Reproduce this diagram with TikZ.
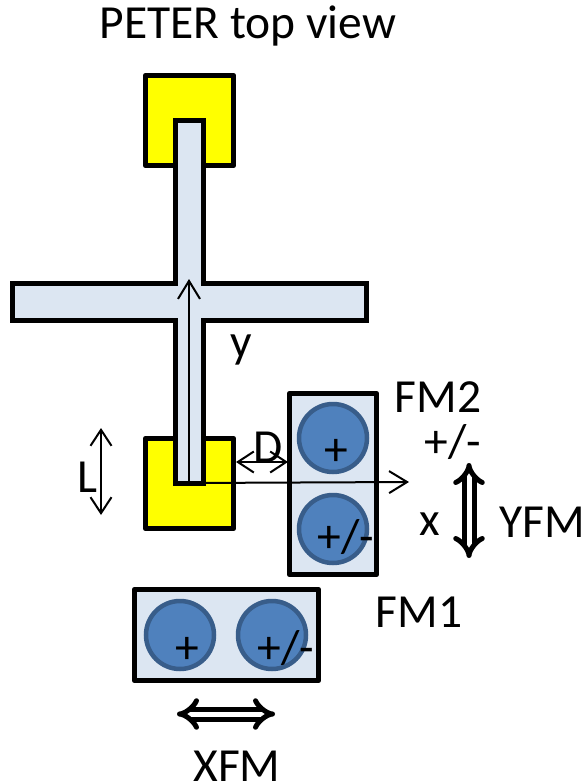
\documentclass[tikz,border=0pt]{standalone}
\usepackage{fontspec}
\usepackage{xcolor}
\usetikzlibrary{arrows.meta}
\setmainfont{Carlito}
\definecolor{padyellow}{HTML}{FFFF00}
\definecolor{palefill}{HTML}{DCE6F2}
\definecolor{discfill}{HTML}{4F81BD}
\definecolor{discedge}{HTML}{385D8A}
\tikzset{
    anchor-box/.style = {draw=black, fill=padyellow, line width=5.5pt, rectangle, line join=round, inner sep=0pt, minimum width=88pt, minimum height=90pt},
    magnet-box/.style = {draw=black, fill=palefill, line width=5.5pt, rectangle, line join=round, inner sep=0pt},
    magnet-disc/.style = {draw=discedge, fill=discfill, line width=4.5pt, circle, inner sep=0pt, minimum size=68pt},
    thin-arrow/.style = {line width=2pt, {Straight Barb[length=16pt,width=21pt,line width=2pt]}-{Straight Barb[length=16pt,width=21pt,line width=2pt]}},
    axis-arrow/.style = {line width=2pt, -{Straight Barb[length=18pt,width=22pt,line width=2pt]}},
    travel-arrow/.style = {draw=black, double=white, double distance=5pt, line width=5pt, {Implies}-{Implies}},
    label-text/.style = {inner sep=0pt, anchor=base, font=\fontsize{47.5pt}{47.5pt}\selectfont},
}

\begin{document}
\begin{tikzpicture}[x=1pt, y=-1pt]
\useasboundingbox (0,0) rectangle (586,784);
% yellow pads under the cross
\node [anchor-box] (top-pad) at (189.5,120.5) {};
\node [anchor-box] (bottom-pad) at (189.5,483.5) {};
\draw [fill=palefill, line width=5.5pt, line join=miter] (175.5,120.5) -- (203.5,120.5) -- (203.5,283.5) -- (366.5,283.5) -- (366.5,320.5) -- (203.5,320.5) -- (203.5,483.5) -- (175.5,483.5) -- (175.5,320.5) -- (12.5,320.5) -- (12.5,283.5) -- (175.5,283.5) -- cycle;
% magnets
\node [magnet-box, minimum width=87pt, minimum height=181pt] (fm2-box) at (333,484) {};
\node [magnet-box, minimum width=184pt, minimum height=91pt] (fm1-box) at (226.5,635) {};
\node [magnet-disc] (fm2-disc-a) at (333,438) {};
\node [magnet-disc] (fm2-disc-b) at (333,529) {};
\node [magnet-disc] (fm1-disc-a) at (180,635) {};
\node [magnet-disc] (fm1-disc-b) at (272,635) {};
% axes
\coordinate (origin) at (189,483);
\coordinate (x-end) at (409,482);
\coordinate (y-end) at (189,279);
\draw [axis-arrow] (origin) -- (x-end);
\draw [axis-arrow] (origin) -- (y-end);
\coordinate (l-top) at (101,428);
\coordinate (l-bottom) at (101,515);
\draw [thin-arrow] (l-top) -- (l-bottom);
\coordinate (d-left) at (236,462);
\coordinate (d-right) at (288,462);
\draw [thin-arrow] (d-left) -- (d-right);
\coordinate (yfm-top) at (469,463);
\coordinate (yfm-bottom) at (469,558);
\draw [travel-arrow] (yfm-top) -- (yfm-bottom);
\coordinate (xfm-left) at (177,714);
\coordinate (xfm-right) at (275,714);
\draw [travel-arrow] (xfm-left) -- (xfm-right);
% labels
\node [label-text] (title) at (248,39) {PETER top view};
\node [label-text] (y-label) at (241,357) {y};
\node [label-text] (x-label) at (430,535) {x};
\node [label-text] (l-label) at (87,492) {L};
\node [label-text] (d-label) at (268,462) {D};
\node [label-text] (fm2-label) at (438,412) {FM2};
\node [label-text] (fm1-label) at (419,627) {FM1};
\node [label-text] (yfm-label) at (542,537) {YFM};
\node [label-text] (xfm-label) at (237,781) {XFM};
\node [label-text] (sign-side) at (453,457) {+/-};
\node [label-text] (sign-a) at (336,465) {+};
\node [label-text] (sign-b) at (346,552) {+/-};
\node [label-text] (sign-c) at (187,663) {+};
\node [label-text] (sign-d) at (286,663) {+/-};
\end{tikzpicture}
\end{document}
